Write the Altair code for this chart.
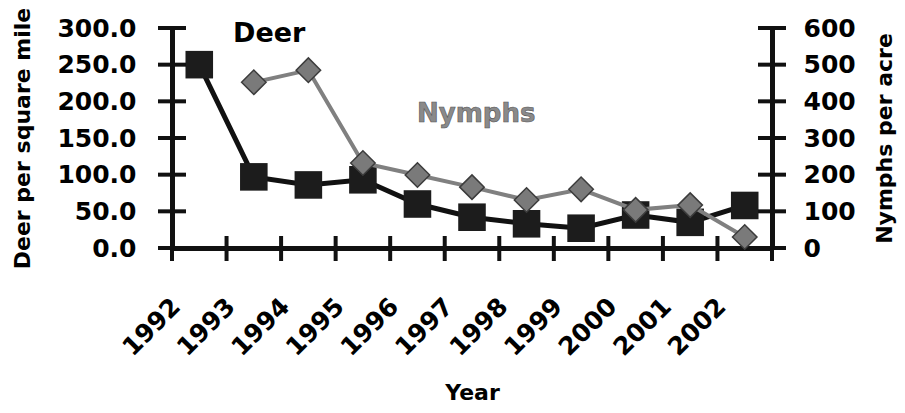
import altair as alt
import pandas as pd

# ---- data ----
years = ["1992", "1993", "1994", "1995", "1996", "1997", "1998", "1999", "2000", "2001", "2002"]
deer = [250, 97, 86, 93, 60, 42, 33, 27, 45, 35, 58]
nymphs = [None, 452, 485, 232, 199, 166, 131, 160, 104, 117, 30]
deer_ticks = [0, 50, 100, 150, 200, 250, 300]
nymph_ticks = [0, 100, 200, 300, 400, 500, 600]

W, H = 600, 220
FONT = "DejaVu Sans"
BLACK = "#111111"
GRAY = "#808080"

deer_df = pd.DataFrame({"year": years, "deer": deer})
nym_df = pd.DataFrame({"year": years, "nymphs": nymphs}).dropna()
deer_tick_df = pd.DataFrame({"deer": deer_ticks})
nym_tick_df = pd.DataFrame({"nymphs": nymph_ticks})
year_df = pd.DataFrame({"year": years})
last_year_df = pd.DataFrame({"year": years[-1:]})

xscale = alt.Scale(type="band", domain=years, paddingInner=0, paddingOuter=0)
xaxis = alt.Axis(
    title="Year", grid=False, ticks=False,
    labelAngle=315, labelAlign="right", labelBaseline="middle",
    labelPadding=54, labelOffset=-23,
    labelFont=FONT, labelFontWeight="bold", labelFontSize=25, labelColor="black",
    titleFont=FONT, titleFontWeight="bold", titleFontSize=22, titleColor="black",
    titleY=144, titleBaseline="middle",
    domainWidth=5, domainColor=BLACK,
)

deer_scale = alt.Scale(domain=[0, 300], nice=False, zero=True)
nym_scale = alt.Scale(domain=[0, 600], nice=False, zero=True)

left_axis = alt.Axis(
    orient="left", title="Deer per square mile", values=deer_ticks, format=".1f",
    grid=False, ticks=False, labelPadding=36,
    labelFont=FONT, labelFontWeight="bold", labelFontSize=25, labelColor="black",
    titleFont=FONT, titleFontWeight="bold", titleFontSize=22, titleColor="black",
    titleAngle=270, titleX=-150, titleY=H / 2, titleAlign="center", titleBaseline="middle",
    domainWidth=5, domainColor=BLACK,
)
right_axis = alt.Axis(
    orient="right", title="Nymphs per acre", values=nymph_ticks, format="d",
    grid=False, ticks=False, labelPadding=31,
    labelFont=FONT, labelFontWeight="bold", labelFontSize=25, labelColor="black",
    titleFont=FONT, titleFontWeight="bold", titleFontSize=22, titleColor="black",
    titleAngle=270, titleX=112, titleY=H / 2, titleAlign="center", titleBaseline="middle",
    domainWidth=5, domainColor=BLACK,
)

X = alt.X("year:O", scale=xscale, axis=xaxis)
YD = alt.Y("deer:Q", scale=deer_scale, axis=left_axis)
YN = alt.Y("nymphs:Q", scale=nym_scale, axis=right_axis)

deer_line = alt.Chart(deer_df).mark_line(color=BLACK, strokeWidth=5).encode(x=X, y=YD)
deer_pts = alt.Chart(deer_df).mark_point(
    shape="square", filled=True, size=760, color="#1c1c1c", opacity=1
).encode(x=X, y=YD)
# crossing tick marks on the left axis
deer_yticks = alt.Chart(deer_tick_df).mark_rule(color=BLACK, strokeWidth=4).encode(
    y=YD, x=alt.value(-14), x2=alt.value(14)
)
# crossing tick marks on the category axis (band boundaries)
x_ticks = alt.Chart(year_df).mark_rule(color=BLACK, strokeWidth=4).encode(
    x=alt.X("year:O", scale=xscale, axis=xaxis, bandPosition=0),
    y=alt.value(H - 12), y2=alt.value(H + 13),
)
x_tick_end = alt.Chart(last_year_df).mark_rule(color=BLACK, strokeWidth=4).encode(
    x=alt.X("year:O", scale=xscale, axis=xaxis, bandPosition=1),
    y=alt.value(H - 12), y2=alt.value(H + 13),
)
deer_label = alt.Chart(pd.DataFrame({"t": ["Deer"]})).mark_text(
    font=FONT, fontWeight="bold", fontSize=27, color="black", align="left", baseline="alphabetic"
).encode(text="t:N", x=alt.value(61), y=alt.value(14))

left = alt.layer(deer_line, deer_pts, deer_yticks, x_ticks, x_tick_end, deer_label)

nym_line = alt.Chart(nym_df).mark_line(color=GRAY, strokeWidth=4).encode(x=X, y=YN)
nym_pts = alt.Chart(nym_df).mark_point(
    shape="diamond", filled=True, size=600, fill="#7a7a7a", stroke="#3c3c3c",
    strokeWidth=1.5, opacity=1
).encode(x=X, y=YN)
nym_yticks = alt.Chart(nym_tick_df).mark_rule(color=BLACK, strokeWidth=4).encode(
    y=YN, x=alt.value(W - 14), x2=alt.value(W + 14)
)
nym_label = alt.Chart(pd.DataFrame({"t": ["Nymphs"]})).mark_text(
    font=FONT, fontWeight="bold", fontSize=26, color="#8a8a8a", stroke="#555555",
    strokeWidth=0.6, align="left", baseline="alphabetic"
).encode(text="t:N", x=alt.value(245), y=alt.value(94))

right = alt.layer(nym_line, nym_pts, nym_yticks, nym_label)

chart = alt.layer(left, right).resolve_scale(y="independent").properties(
    width=W, height=H,
    padding={"left": 164, "top": 20, "right": 125, "bottom": 157},
    autosize=alt.AutoSizeParams(type="none"),
    background="white",
).configure_view(stroke=None)

chart.save("out.html", embed_options={"renderer": "svg", "actions": False})
